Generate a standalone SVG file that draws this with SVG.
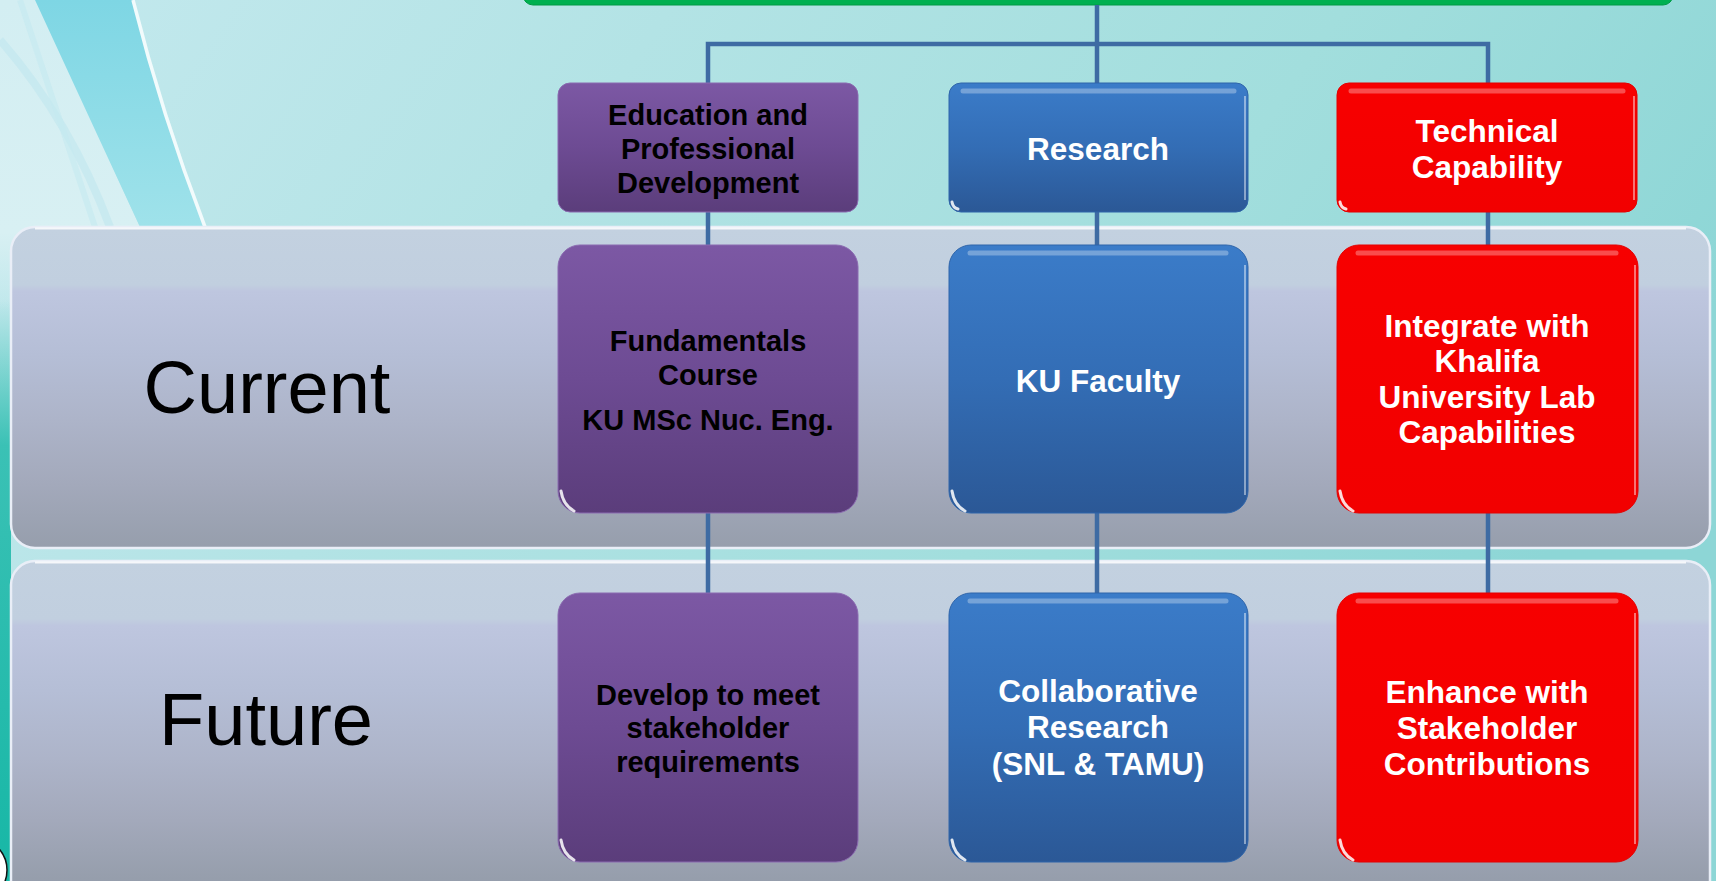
<svg xmlns="http://www.w3.org/2000/svg" width="1716" height="881" viewBox="0 0 1716 881">
  <defs>
    <linearGradient id="bg" x1="0" y1="0" x2="1" y2="0.35">
      <stop offset="0" stop-color="#c4e9ee"/>
      <stop offset="0.35" stop-color="#b3e3e5"/>
      <stop offset="0.7" stop-color="#a2dedd"/>
      <stop offset="1" stop-color="#8dd6d6"/>
    </linearGradient>
    <linearGradient id="band" x1="0" y1="0" x2="0" y2="1">
      <stop offset="0" stop-color="#c3d1e0"/>
      <stop offset="0.18" stop-color="#c1cfdf"/>
      <stop offset="0.2" stop-color="#bec6df"/>
      <stop offset="0.4" stop-color="#b5bed6"/>
      <stop offset="0.6" stop-color="#adb4c9"/>
      <stop offset="0.8" stop-color="#a3a9bb"/>
      <stop offset="1" stop-color="#969eac"/>
    </linearGradient>
    <linearGradient id="band2" x1="0" y1="0" x2="0" y2="1">
      <stop offset="0" stop-color="#c3d1e0"/>
      <stop offset="0.16" stop-color="#c1cfdf"/>
      <stop offset="0.18" stop-color="#bec6df"/>
      <stop offset="0.36" stop-color="#b5bed6"/>
      <stop offset="0.55" stop-color="#adb4c9"/>
      <stop offset="0.72" stop-color="#a3a9bb"/>
      <stop offset="0.88" stop-color="#969eac"/>
      <stop offset="1" stop-color="#939bab"/>
    </linearGradient>
    <linearGradient id="purple" x1="0" y1="0" x2="0" y2="1">
      <stop offset="0" stop-color="#7c58a4"/>
      <stop offset="0.5" stop-color="#6d4b93"/>
      <stop offset="1" stop-color="#5b3d7b"/>
    </linearGradient>
    <linearGradient id="blue" x1="0" y1="0" x2="0" y2="1">
      <stop offset="0" stop-color="#3b7cc9"/>
      <stop offset="0.5" stop-color="#336db5"/>
      <stop offset="1" stop-color="#2b5896"/>
    </linearGradient>
    <linearGradient id="red" x1="0" y1="0" x2="0" y2="1">
      <stop offset="0" stop-color="#f70000"/>
      <stop offset="1" stop-color="#f20000"/>
    </linearGradient>
    <linearGradient id="edgeStrip" x1="0" y1="0" x2="0" y2="1">
      <stop offset="0" stop-color="#1ab8a8" stop-opacity="0"/>
      <stop offset="0.25" stop-color="#1ab8a8" stop-opacity="0.8"/>
      <stop offset="1" stop-color="#17b7a6"/>
    </linearGradient>
    <linearGradient id="swirl" x1="0" y1="0" x2="0" y2="1">
      <stop offset="0" stop-color="#7ed6e4"/>
      <stop offset="1" stop-color="#9fe2ea"/>
    </linearGradient>
    <linearGradient id="haze" x1="0" y1="0" x2="0" y2="1">
      <stop offset="0" stop-color="#d3eef2"/>
      <stop offset="0.75" stop-color="#d8f0f3"/>
      <stop offset="1" stop-color="#d8f0f3" stop-opacity="0"/>
    </linearGradient>
    <style>
      .band { stroke: #e9eef7; stroke-width: 2.5; }
      .box-p { fill: url(#purple); stroke: #8a6ab0; stroke-width: 1; }
      .box-b { fill: url(#blue); stroke: #2f65aa; stroke-width: 1; }
      .box-r { fill: url(#red); stroke: #e40000; stroke-width: 1; }
      .gloss { fill: none; stroke: #ffffff; stroke-opacity: 0.3; stroke-width: 5; stroke-linecap: round; }
      .edge { fill: none; stroke: #ffffff; stroke-opacity: 0.45; stroke-width: 2; }
      .glare { fill: none; stroke: #ffffff; stroke-width: 3; stroke-linecap: round; stroke-opacity: 0.85; }
      .link { fill: none; stroke: #3e6ba3; stroke-width: 4.5; }
      .row { font-family: "Liberation Sans", Arial, sans-serif; font-size: 74px; fill: #000; text-anchor: middle; }
      .tk { font-family: "Liberation Sans", Arial, sans-serif; font-weight: bold; font-size: 29px; fill: #000; text-anchor: middle; }
      .tw { font-family: "Liberation Sans", Arial, sans-serif; font-weight: bold; font-size: 31.5px; fill: #fff; text-anchor: middle; }
    </style>
  </defs>

  <!-- backdrop -->
  <rect width="1716" height="881" fill="url(#bg)"/>
  <path d="M0 0 L40 0 Q95 130 140 227 Q150 260 160 310 L0 310 Z" fill="url(#haze)"/>
  <path d="M35 0 L133 0 Q160 110 205 227 L140 227 Q95 130 35 0 Z" fill="url(#swirl)"/>
  <path d="M133 0 Q162 115 205 227" fill="none" stroke="#f2fbfc" stroke-width="3.5"/>
  <path d="M0 40 Q70 120 110 227" fill="none" stroke="#bfe6ee" stroke-width="8" opacity="0.6"/>
  <path d="M20 0 Q60 120 95 227" fill="none" stroke="#c4eaf0" stroke-width="6" opacity="0.6"/>
  <rect x="0" y="300" width="11" height="581" fill="url(#edgeStrip)"/>
  <circle cx="-25" cy="870" r="32" fill="#ffffff" stroke="#111111" stroke-width="1.5"/>

  <!-- header bar -->
  <g id="header">
    <rect x="523" y="-40" width="1150" height="45" rx="10" fill="#00b050" stroke="#009a45" stroke-width="1"/>
  </g>

  <!-- timeline bands -->
  <g id="band-current">
    <rect class="band" x="11" y="227" width="1699" height="321" rx="24" fill="url(#band)"/>
    <path d="M35 228.5 H1686" stroke="#ffffff" stroke-width="2" opacity="0.8"/>
    <text class="row" x="267" y="413">Current</text>
  </g>
  <g id="band-future">
    <rect class="band" x="11" y="561" width="1699" height="360" rx="24" fill="url(#band2)"/>
    <path d="M35 562.5 H1686" stroke="#ffffff" stroke-width="2" opacity="0.8"/>
    <text class="row" x="266" y="745">Future</text>
  </g>

  <!-- connectors -->
  <g id="connectors">
    <path class="link" d="M1097 5 V44"/>
    <path class="link" d="M708 83 V44 H1488 V83"/>
    <path class="link" d="M1097 44 V83"/>
    <path class="link" d="M708 212 V245 M1097 212 V245 M1488 212 V245"/>
    <path class="link" d="M708 513 V593 M1097 513 V593 M1488 513 V593"/>
  </g>

  <!-- column heads -->
  <g id="edu-head">
    <rect class="box-p" x="558" y="83" width="300" height="129" rx="12"/>
    <text class="tk" x="708" y="125">Education and</text>
    <text class="tk" x="708" y="159">Professional</text>
    <text class="tk" x="708" y="193">Development</text>
  </g>
  <g id="research-head">
    <rect class="box-b" x="949" y="83" width="299" height="129" rx="12"/>
    <path class="gloss" d="M963 91 H1234"/>
    <path class="edge" d="M1245 96 V200"/>
    <path class="glare" d="M952 202 Q953 208 958 209"/>
    <text class="tw" x="1098" y="160">Research</text>
  </g>
  <g id="tech-head">
    <rect class="box-r" x="1337" y="83" width="300" height="129" rx="12"/>
    <path class="gloss" d="M1351 91 H1623"/>
    <path class="edge" d="M1634 96 V200"/>
    <path class="glare" d="M1340 202 Q1341 208 1346 209"/>
    <text class="tw" x="1487" y="142">Technical</text>
    <text class="tw" x="1487" y="178">Capability</text>
  </g>

  <!-- current row -->
  <g id="edu-current">
    <rect class="box-p" x="558" y="245" width="300" height="268" rx="22"/>
    <path class="glare" d="M561 491 Q563 505 574 511" stroke-opacity="0.4"/>
    <text class="tk" x="708" y="351">Fundamentals</text>
    <text class="tk" x="708" y="385">Course</text>
    <text class="tk" x="708" y="430">KU MSc Nuc. Eng.</text>
  </g>
  <g id="research-current">
    <rect class="box-b" x="949" y="245" width="299" height="268" rx="22"/>
    <path class="gloss" d="M970 253 H1226"/>
    <path class="edge" d="M1245 265 V495"/>
    <path class="glare" d="M952 491 Q954 505 965 511"/>
    <text class="tw" x="1098" y="392">KU Faculty</text>
  </g>
  <g id="tech-current">
    <rect class="box-r" x="1337" y="245" width="301" height="268" rx="22"/>
    <path class="gloss" d="M1358 253 H1616"/>
    <path class="edge" d="M1635 265 V495"/>
    <path class="glare" d="M1340 491 Q1342 505 1353 511"/>
    <text class="tw" x="1487" y="337">Integrate with</text>
    <text class="tw" x="1487" y="372">Khalifa</text>
    <text class="tw" x="1487" y="408">University Lab</text>
    <text class="tw" x="1487" y="443">Capabilities</text>
  </g>

  <!-- future row -->
  <g id="edu-future">
    <rect class="box-p" x="558" y="593" width="300" height="269" rx="22"/>
    <path class="glare" d="M561 840 Q563 854 574 860" stroke-opacity="0.4"/>
    <text class="tk" x="708" y="705">Develop to meet</text>
    <text class="tk" x="708" y="738">stakeholder</text>
    <text class="tk" x="708" y="772">requirements</text>
  </g>
  <g id="research-future">
    <rect class="box-b" x="949" y="593" width="299" height="269" rx="22"/>
    <path class="gloss" d="M970 601 H1226"/>
    <path class="edge" d="M1245 613 V844"/>
    <path class="glare" d="M952 840 Q954 854 965 860"/>
    <text class="tw" x="1098" y="702">Collaborative</text>
    <text class="tw" x="1098" y="738">Research</text>
    <text class="tw" x="1098" y="775">(SNL &amp; TAMU)</text>
  </g>
  <g id="tech-future">
    <rect class="box-r" x="1337" y="593" width="301" height="269" rx="22"/>
    <path class="gloss" d="M1358 601 H1616"/>
    <path class="edge" d="M1635 613 V844"/>
    <path class="glare" d="M1340 840 Q1342 854 1353 860"/>
    <text class="tw" x="1487" y="703">Enhance with</text>
    <text class="tw" x="1487" y="739">Stakeholder</text>
    <text class="tw" x="1487" y="775">Contributions</text>
  </g>
</svg>
